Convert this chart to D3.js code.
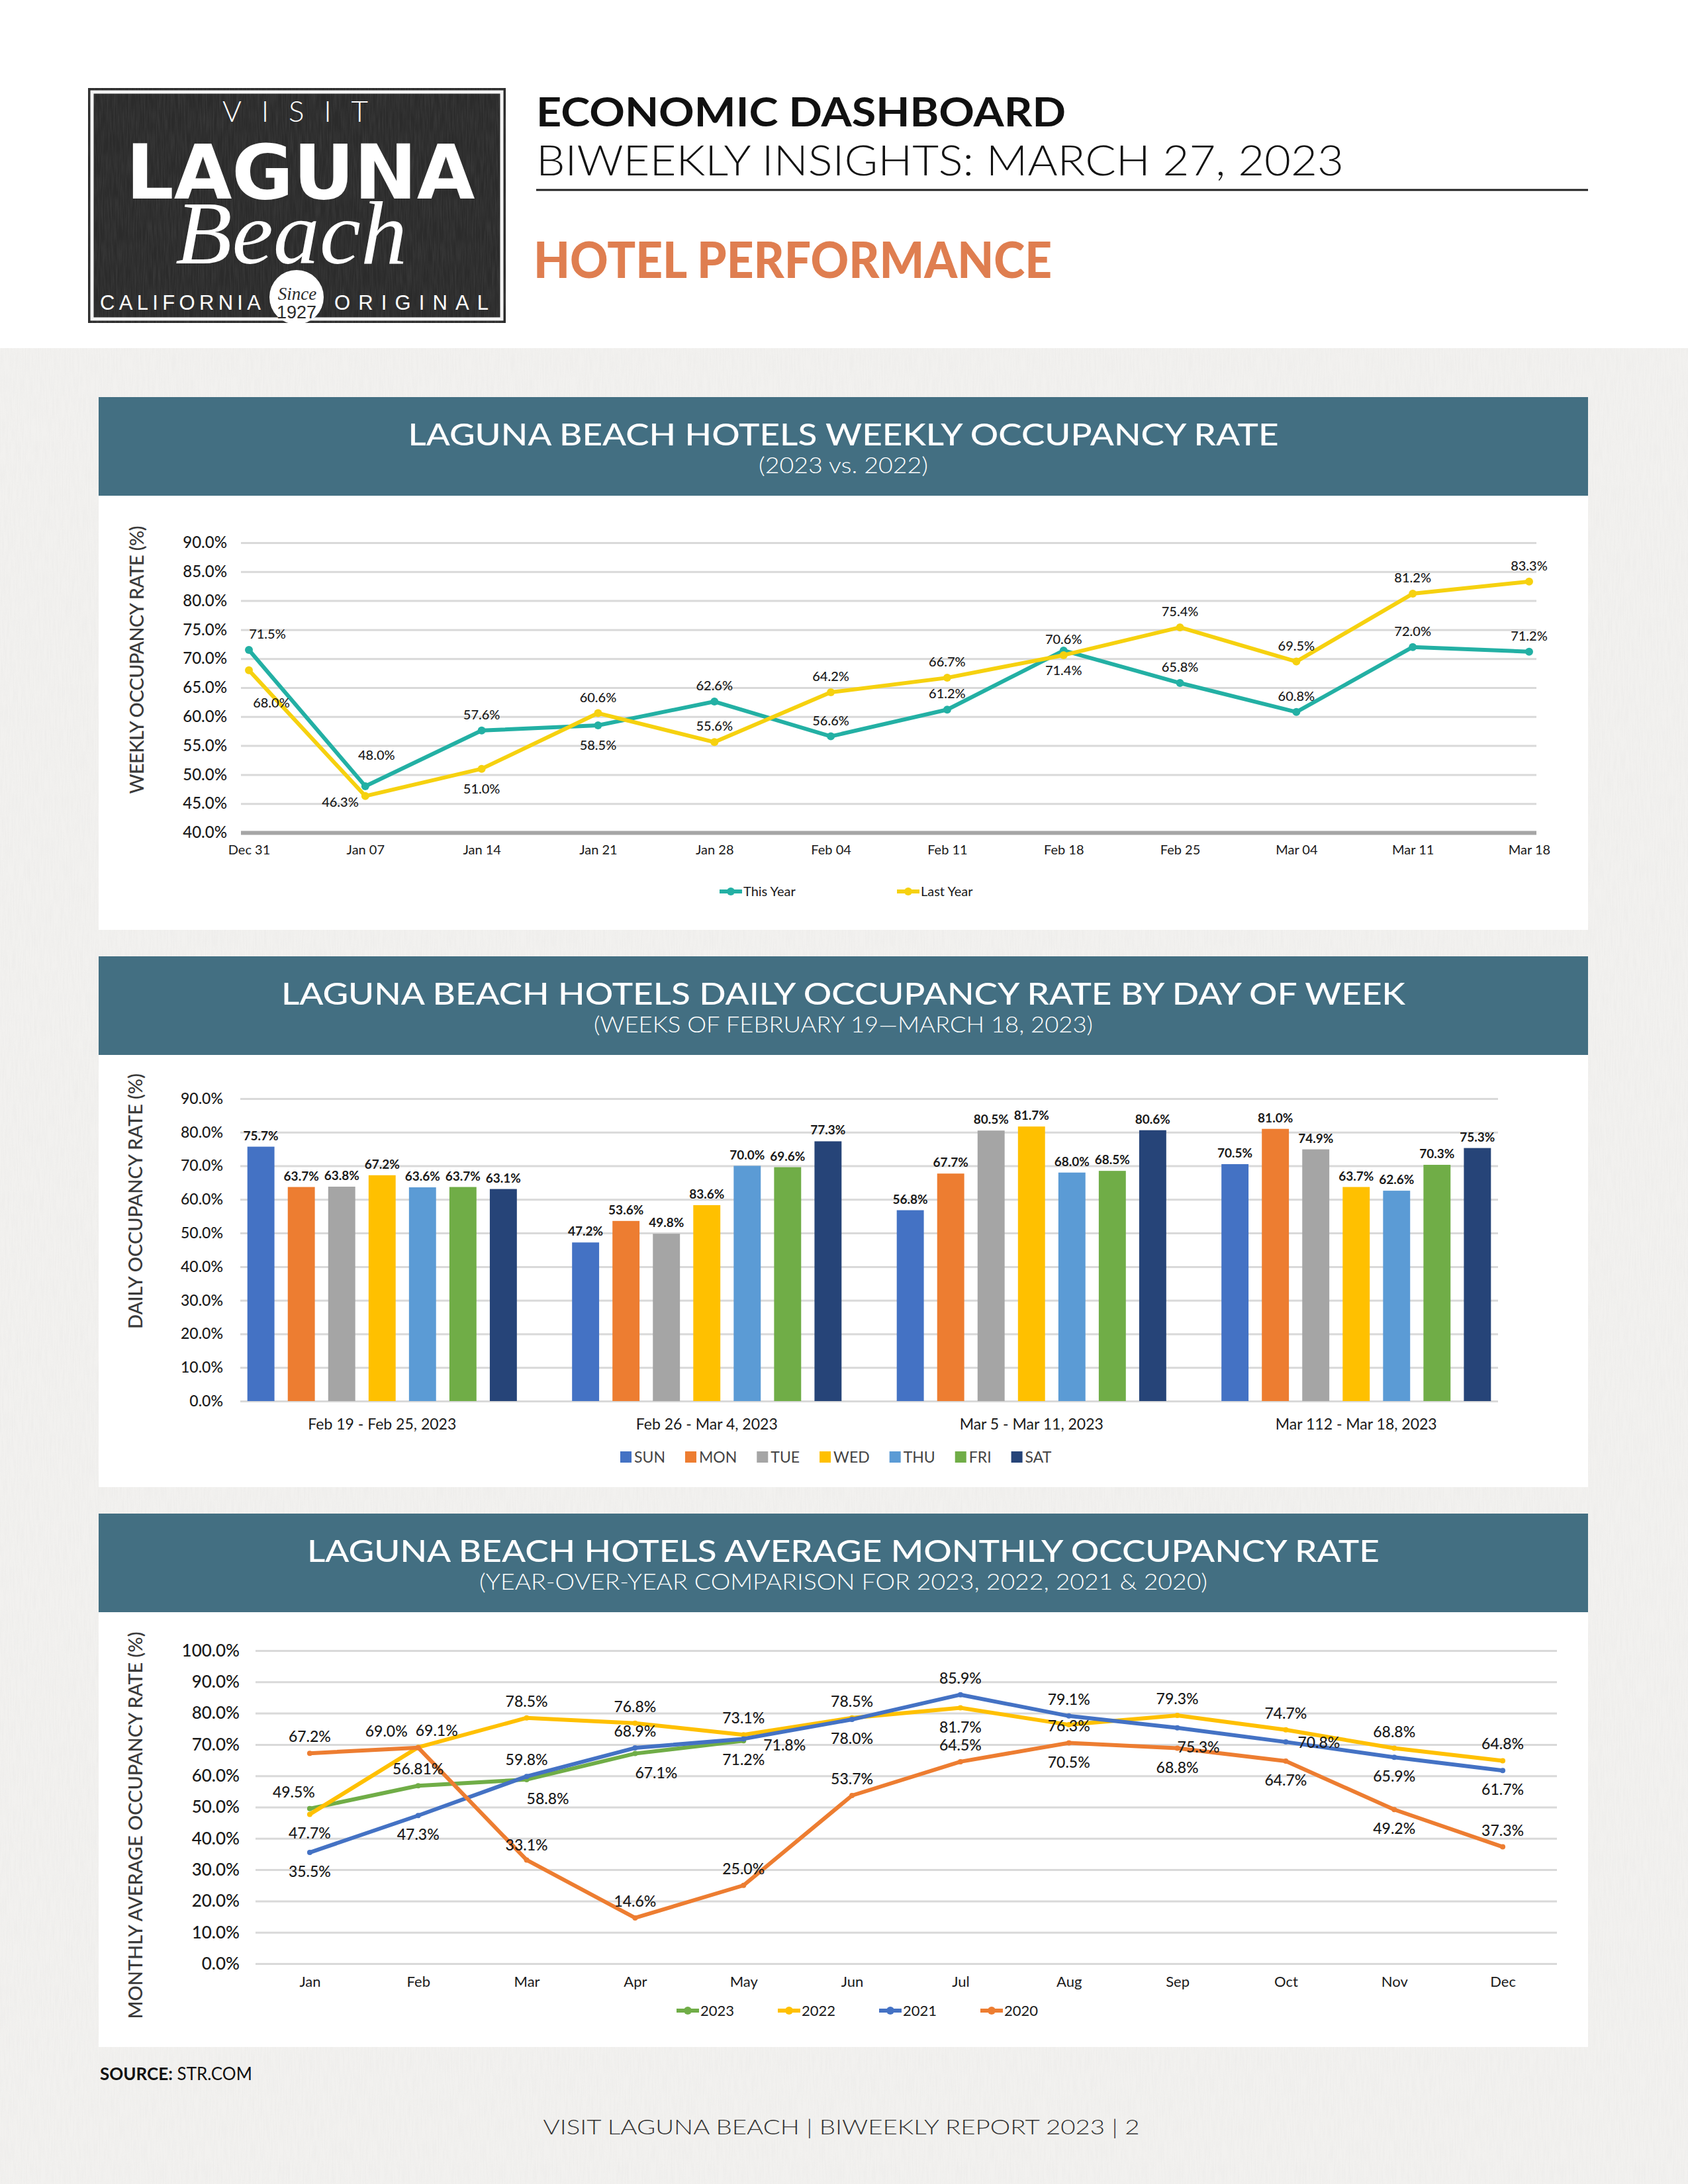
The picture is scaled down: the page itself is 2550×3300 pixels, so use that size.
<!DOCTYPE html>
<html>
<head>
<meta charset="utf-8">
<script src="https://cdn.jsdelivr.net/npm/d3@7"></script>
<style>
body { margin: 0; background: #fff; }
text { font-family: Lato, 'Open Sans', sans-serif; }
</style>
</head>
<body>
<script>
'use strict';

// weekly occupancy
var weeks = ['Dec 31', 'Jan 07', 'Jan 14', 'Jan 21', 'Jan 28', 'Feb 04', 'Feb 11', 'Feb 18', 'Feb 25', 'Mar 04', 'Mar 11', 'Mar 18']
var thisYear = [71.5, 48.0, 57.6, 58.5, 62.6, 56.6, 61.2, 71.4, 65.8, 60.8, 72.0, 71.2]
var lastYear = [68.0, 46.3, 51.0, 60.6, 55.6, 64.2, 66.7, 70.6, 75.4, 69.5, 81.2, 83.3]
var weeklyTicks = [40, 45, 50, 55, 60, 65, 70, 75, 80, 85, 90]

// daily occupancy by day of week
var weekGroups = ['Feb 19 - Feb 25, 2023', 'Feb 26 - Mar 4, 2023', 'Mar 5 - Mar 11, 2023', 'Mar 112 - Mar 18, 2023']
var days = ['SUN', 'MON', 'TUE', 'WED', 'THU', 'FRI', 'SAT']
var feb19 = [75.7, 63.7, 63.8, 67.2, 63.6, 63.7, 63.1]
var feb26 = [47.2, 53.6, 49.8, 58.3, 70.0, 69.6, 77.3]
var mar05 = [56.8, 67.7, 80.5, 81.7, 68.0, 68.5, 80.6]
var mar12 = [70.5, 81.0, 74.9, 63.7, 62.6, 70.3, 75.3]
var dailyTicks = [0, 10, 20, 30, 40, 50, 60, 70, 80, 90]
// label printed in the report differs from the bar
var dailyPrinted = { 'Feb 26 - Mar 4, 2023|WED': '83.6%' }

// monthly average occupancy
var months = ['Jan', 'Feb', 'Mar', 'Apr', 'May', 'Jun', 'Jul', 'Aug', 'Sep', 'Oct', 'Nov', 'Dec']
var occ2023 = [49.5, 56.81, 58.8, 67.1, 71.2]
var occ2022 = [47.7, 69.1, 78.5, 76.8, 73.1, 78.5, 81.7, 76.3, 79.3, 74.7, 68.8, 64.8]
var occ2021 = [35.5, 47.3, 59.8, 68.9, 71.8, 78.0, 85.9, 79.1, 75.3, 70.8, 65.9, 61.7]
var occ2020 = [67.2, 69.0, 33.1, 14.6, 25.0, 53.7, 64.5, 70.5, 68.8, 64.7, 49.2, 37.3]
var monthlyTicks = [0, 10, 20, 30, 40, 50, 60, 70, 80, 90, 100]

var W = 2550, H = 3300
var dayColors = ['#4472c4', '#ed7d31', '#a5a5a5', '#ffc000', '#5b9bd5', '#70ad47', '#264478']
var fmt = function(v) { return (Math.round(v * 10) === v * 10 ? v.toFixed(1) : String(v)) + '%' }

// label placement codes: dx, dy, anchor
var offs = {
    a: [0, -17, 'middle'], b: [0, 37, 'middle'], ar: [28, -17, 'middle'], br: [32, 37, 'middle'],
    bb: [34, 56, 'middle'], aa: [17, -40, 'middle'], al: [-24, -17, 'middle'], al2: [-48, -17, 'middle'],
    l: [-10, 16, 'end'], r: [18, 9, 'start'], r2: [30, 18, 'start'], c: [0, -14, 'middle'], m: [0, 10, 'middle']
}

var svg = d3.select('body').append('svg').attr('width', W).attr('height', H)
var defs = svg.append('defs')
var grain = defs.append('filter').attr('id', 'grain').attr('x', 0).attr('y', 0).attr('width', '100%').attr('height', '100%')
grain.append('feTurbulence').attr('type', 'fractalNoise').attr('baseFrequency', '0.5 0.03').attr('numOctaves', 2).attr('seed', 7)
grain.append('feColorMatrix').attr('values', '0 0 0 0 0.6  0 0 0 0 0.6  0 0 0 0 0.6  0.35 0 0 0 -0.12')

svg.append('rect').attr('width', W).attr('height', H).attr('fill', '#fff')
svg.append('rect').attr('y', 526).attr('width', W).attr('height', H - 526).attr('fill', '#f2f1ef')
svg.append('rect').attr('y', 526).attr('width', W).attr('height', H - 526).attr('filter', 'url(#grain)').attr('opacity', 0.6)

// logo
var logo = svg.append('g')
logo.append('rect').attr('x', 133).attr('y', 133).attr('width', 631).attr('height', 355).attr('fill', '#2b2b2b')
logo.append('rect').attr('x', 133).attr('y', 133).attr('width', 631).attr('height', 355).attr('filter', 'url(#grain)').attr('opacity', 0.5)
logo.append('rect').attr('x', 139).attr('y', 139).attr('width', 619).attr('height', 343)
    .attr('fill', 'none').attr('stroke', '#f4f4f4').attr('stroke-width', 5)
logo.append('text').attr('x', 446).attr('y', 184).attr('text-anchor', 'middle').attr('fill', '#fff')
    .attr('font-size', 44).attr('font-weight', 300).attr('textLength', 220).attr('lengthAdjust', 'spacing').text('VISIT')
logo.append('text').attr('x', 454).attr('y', 300).attr('text-anchor', 'middle').attr('fill', '#fff')
    .style('font-family', "'Liberation Sans Narrow', 'DejaVu Sans Condensed', sans-serif").attr('font-weight', 700)
    .attr('font-size', 114).attr('textLength', 527).attr('lengthAdjust', 'spacingAndGlyphs').text('LAGUNA')
logo.append('text').attr('x', 440).attr('y', 398).attr('text-anchor', 'middle').attr('fill', '#fff')
    .style('font-family', "'Liberation Serif', serif").attr('font-style', 'italic')
    .attr('font-size', 136).attr('textLength', 350).attr('lengthAdjust', 'spacingAndGlyphs').text('Beach')
logo.append('text').attr('x', 151).attr('y', 468).attr('fill', '#fff')
    .style('font-family', "'Liberation Sans Narrow', sans-serif").attr('font-size', 31)
    .attr('textLength', 243).attr('lengthAdjust', 'spacing').text('CALIFORNIA')
logo.append('text').attr('x', 505).attr('y', 468).attr('fill', '#fff')
    .style('font-family', "'Liberation Sans Narrow', sans-serif").attr('font-size', 31)
    .attr('textLength', 233).attr('lengthAdjust', 'spacing').text('ORIGINAL')
logo.append('circle').attr('cx', 448).attr('cy', 449).attr('r', 41).attr('fill', '#fff')
logo.append('text').attr('x', 449).attr('y', 453).attr('text-anchor', 'middle').attr('fill', '#2b2b2b')
    .style('font-family', "'Liberation Serif', serif").attr('font-style', 'italic').attr('font-size', 27).text('Since')
logo.append('text').attr('x', 448).attr('y', 481).attr('text-anchor', 'middle').attr('fill', '#2b2b2b')
    .style('font-family', "'Liberation Sans Narrow', sans-serif").attr('font-size', 27).text('1927')

// page header
svg.append('text').attr('x', 810).attr('y', 191).attr('fill', '#111').attr('font-size', 62).attr('font-weight', 700)
    .attr('textLength', 800).attr('lengthAdjust', 'spacingAndGlyphs').text('ECONOMIC DASHBOARD')
svg.append('text').attr('x', 810).attr('y', 265).attr('fill', '#111').attr('font-size', 63).attr('font-weight', 300)
    .attr('textLength', 1220).attr('lengthAdjust', 'spacingAndGlyphs').text('BIWEEKLY INSIGHTS: MARCH 27, 2023')
svg.append('line').attr('x1', 810).attr('x2', 2399).attr('y1', 287).attr('y2', 287).attr('stroke', '#222').attr('stroke-width', 3)
svg.append('text').attr('x', 806).attr('y', 420).attr('fill', '#df7e50').attr('font-size', 76).attr('font-weight', 900)
    .attr('textLength', 783).attr('lengthAdjust', 'spacingAndGlyphs').text('HOTEL PERFORMANCE')

function panel(top, bottom, title, titleLen, sub, subLen) {
    svg.append('rect').attr('x', 149).attr('y', top).attr('width', 2250).attr('height', bottom - top).attr('fill', '#fff')
    svg.append('rect').attr('x', 149).attr('y', top).attr('width', 2250).attr('height', 149).attr('fill', '#436f82')
    svg.append('text').attr('x', 1274).attr('y', top + 73).attr('text-anchor', 'middle').attr('fill', '#fff')
        .attr('font-size', 47).attr('font-weight', 500).attr('textLength', titleLen).attr('lengthAdjust', 'spacingAndGlyphs').text(title)
    svg.append('text').attr('x', 1274).attr('y', top + 115).attr('text-anchor', 'middle').attr('fill', '#fff')
        .attr('font-size', 33).attr('font-weight', 300).attr('textLength', subLen).attr('lengthAdjust', 'spacingAndGlyphs').text(sub)
}

function yTitle(cx, cy, len, label) {
    svg.append('text').attr('transform', 'translate(' + cx + ',' + cy + ') rotate(-90)').attr('text-anchor', 'middle')
        .attr('dy', '0.35em').attr('fill', '#3a3a3a').attr('font-size', 29).attr('font-weight', 500)
        .attr('textLength', len).attr('lengthAdjust', 'spacing').text(label)
}

function yAxis(y, ticks, left, right, pad, size) {
    var ax = svg.append('g').attr('transform', 'translate(' + left + ',0)')
        .call(d3.axisLeft(y).tickValues(ticks).tickSize(-(right - left)).tickPadding(pad)
            .tickFormat(function(d) { return d.toFixed(1) + '%' }))
    ax.select('.domain').remove()
    ax.selectAll('line').attr('stroke', '#d9d9d9').attr('stroke-width', 3)
    ax.selectAll('text').attr('font-size', size).attr('fill', '#1a1a1a').attr('font-weight', 500)
    return ax
}

function xAxis(x, yPos, pad, size) {
    var ax = svg.append('g').attr('transform', 'translate(0,' + yPos + ')')
        .call(d3.axisBottom(x).tickSize(0).tickPadding(pad))
    ax.select('.domain').remove()
    ax.selectAll('text').attr('font-size', size).attr('fill', '#1a1a1a')
    return ax
}

function series(x, y, cats, vals, color, pos, r) {
    var pts = vals.map(function(v, i) { return { c: cats[i], v: v, p: offs[pos[i]] } })
    var g = svg.append('g')
    g.append('path').datum(pts).attr('fill', 'none').attr('stroke', color).attr('stroke-width', 6)
        .attr('stroke-linejoin', 'round')
        .attr('d', d3.line().x(function(d) { return x(d.c) }).y(function(d) { return y(d.v) }))
    g.selectAll('circle').data(pts).enter().append('circle')
        .attr('cx', function(d) { return x(d.c) }).attr('cy', function(d) { return y(d.v) })
        .attr('r', r).attr('fill', color)
    return pts
}

function seriesLabels(x, y, pts, fs) {
    svg.append('g').selectAll('text').data(pts).enter().append('text')
        .attr('x', function(d) { return x(d.c) + d.p[0] }).attr('y', function(d) { return y(d.v) + d.p[1] })
        .attr('text-anchor', function(d) { return d.p[2] })
        .attr('font-size', fs).attr('font-weight', 500).attr('fill', '#1a1a1a')
        .text(function(d) { return fmt(d.v) })
}

function lineLegend(items, colors, start, step, cy, fs) {
    var g = svg.append('g')
    items.forEach(function(name, i) {
        var x = start + i * step
        g.append('line').attr('x1', x).attr('x2', x + 34).attr('y1', cy).attr('y2', cy)
            .attr('stroke', colors[i]).attr('stroke-width', 6)
        g.append('circle').attr('cx', x + 17).attr('cy', cy).attr('r', 6).attr('fill', colors[i])
        g.append('text').attr('x', x + 36).attr('y', cy).attr('dy', '0.35em').attr('font-size', fs)
            .attr('fill', '#1a1a1a').text(name)
    })
}

// ---------- chart 1 : weekly ----------
panel(600, 1405, 'LAGUNA BEACH HOTELS WEEKLY OCCUPANCY RATE', 1315, '(2023 vs. 2022)', 256)
var x1 = d3.scalePoint().domain(weeks).range([376, 2310])
var y1 = d3.scaleLinear().domain([40, 90]).range([1258, 820])
var ax1 = yAxis(y1, weeklyTicks, 364, 2321, 21, 24)
ax1.selectAll('.tick').filter(function(d) { return d === 40 }).select('line').attr('stroke', '#a6a6a6').attr('stroke-width', 6)
xAxis(x1, 1258, 19, 20)
yTitle(207, 997, 405, 'WEEKLY OCCUPANCY RATE (%)')
var pTeal = series(x1, y1, weeks, thisYear, '#23b0a4',
    ['ar', 'aa', 'a', 'b', 'a', 'a', 'a', 'b', 'a', 'a', 'a', 'a'], 6)
var pGold = series(x1, y1, weeks, lastYear, '#f6d10f',
    ['bb', 'l', 'b', 'a', 'a', 'a', 'a', 'a', 'a', 'a', 'a', 'a'], 6)
seriesLabels(x1, y1, pTeal, 20)
seriesLabels(x1, y1, pGold, 20)
lineLegend(['This Year', 'Last Year'], ['#23b0a4', '#f6d10f'], 1087, 268, 1347, 20)

// ---------- chart 2 : daily by day of week ----------
panel(1445, 2247, 'LAGUNA BEACH HOTELS DAILY OCCUPANCY RATE BY DAY OF WEEK', 1698,
    '(WEEKS OF FEBRUARY 19\u2014MARCH 18, 2023)', 754)
var dailyRates = [feb19, feb26, mar05, mar12]
var x0 = d3.scaleBand().domain(weekGroups).range([332, 2294])
var xd = d3.scaleBand().domain(days).range([x0.bandwidth() * 0.085, x0.bandwidth() * 0.915]).paddingInner(0.33)
var y2 = d3.scaleLinear().domain([0, 90]).range([2117, 1660])
yAxis(y2, dailyTicks, 363, 2263, 26, 23)
xAxis(x0, 2117, 27, 23)
yTitle(205, 1815, 386, 'DAILY OCCUPANCY RATE (%)')

var bars = []
weekGroups.forEach(function(w, gi) {
    days.forEach(function(d, di) {
        bars.push({ w: w, d: d, v: dailyRates[gi][di], color: dayColors[di] })
    })
})
var bg = svg.append('g')
bg.selectAll('rect').data(bars).enter().append('rect')
    .attr('x', function(b) { return x0(b.w) + xd(b.d) })
    .attr('y', function(b) { return y2(b.v) })
    .attr('width', xd.bandwidth())
    .attr('height', function(b) { return y2(0) - y2(b.v) })
    .attr('fill', function(b) { return b.color })
bg.selectAll('text').data(bars).enter().append('text')
    .attr('x', function(b) { return x0(b.w) + xd(b.d) + xd.bandwidth() / 2 })
    .attr('y', function(b) { return y2(b.v) - 10 })
    .attr('text-anchor', 'middle').attr('font-size', 19).attr('font-weight', 700).attr('fill', '#1a1a1a')
    .text(function(b) { return dailyPrinted[b.w + '|' + b.d] || fmt(b.v) })

var lg = svg.append('g')
var lx = 937
days.forEach(function(d, i) {
    lg.append('rect').attr('x', lx).attr('y', 2193).attr('width', 17).attr('height', 17).attr('fill', dayColors[i])
    var t = lg.append('text').attr('x', lx + 21).attr('y', 2202).attr('dy', '0.35em').attr('font-size', 23)
        .attr('fill', '#444').text(d)
    lx += 21 + t.node().getComputedTextLength() + 30
})

// ---------- chart 3 : monthly ----------
panel(2287, 3093, 'LAGUNA BEACH HOTELS AVERAGE MONTHLY OCCUPANCY RATE', 1620,
    '(YEAR-OVER-YEAR COMPARISON FOR 2023, 2022, 2021 & 2020)', 1100)
var x3 = d3.scalePoint().domain(months).range([386, 2352]).padding(0.5)
var y3 = d3.scaleLinear().domain([0, 100]).range([2967, 2494])
yAxis(y3, monthlyTicks, 386, 2352, 24, 26)
xAxis(x3, 2967, 19, 22)
yTitle(205, 2758, 585, 'MONTHLY AVERAGE OCCUPANCY RATE (%)')
var p23 = series(x3, y3, months, occ2023, '#70ad47', ['al', 'a', 'br', 'br', 'b'], 4)
var p22 = series(x3, y3, months, occ2022, '#ffc000',
    ['b', 'ar', 'a', 'a', 'a', 'a', 'b', 'm', 'a', 'a', 'a', 'a'], 4)
var p21 = series(x3, y3, months, occ2021, '#4472c4',
    ['b', 'b', 'a', 'a', 'r2', 'b', 'a', 'a', 'br', 'r', 'b', 'b'], 4)
var p20 = series(x3, y3, months, occ2020, '#ed7d31',
    ['a', 'al2', 'c', 'a', 'a', 'a', 'a', 'b', 'b', 'b', 'b', 'a'], 4)
;[p23, p22, p21, p20].forEach(function(p) { seriesLabels(x3, y3, p, 23) })
lineLegend(['2023', '2022', '2021', '2020'], ['#70ad47', '#ffc000', '#4472c4', '#ed7d31'], 1022, 153, 3038, 22)

// footer
var src = svg.append('text').attr('x', 151).attr('y', 3143).attr('font-size', 26).attr('fill', '#111')
src.append('tspan').attr('font-weight', 700).text('SOURCE:')
src.append('tspan').text(' STR.COM')
svg.append('text').attr('x', 1271).attr('y', 3225).attr('text-anchor', 'middle').attr('font-size', 32)
    .attr('font-weight', 300).attr('fill', '#333').attr('textLength', 901).attr('lengthAdjust', 'spacingAndGlyphs')
    .text('VISIT LAGUNA BEACH  |  BIWEEKLY REPORT 2023  |  2')
</script>
</body>
</html>
